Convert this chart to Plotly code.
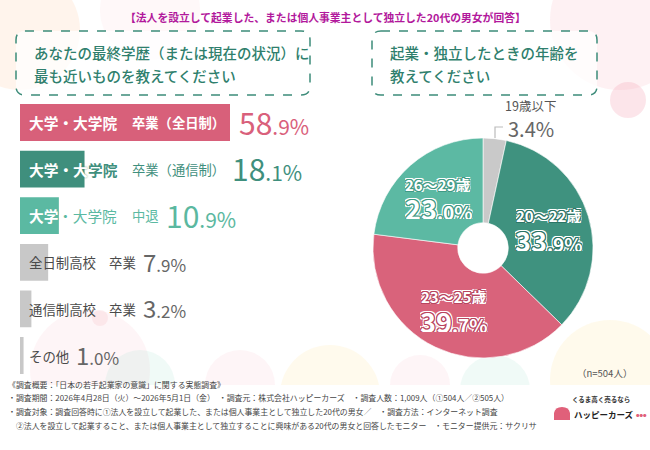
import math
import plotly.graph_objects as go

W, H = 650, 450

# ---------------- data ----------------
edu_prefix = ["大学・大学院", "大学・大学院", "大学・大学院", "全日制高校", "通信制高校", "その他"]
edu_suffix = ["卒業（全日制）", "卒業（通信制）", "中退", "卒業", "卒業", ""]
edu_white_chars = [6, 4, 2, 0, 0, 0]          # leading characters printed in white over the bar
edu_values = [58.9, 18.1, 10.9, 7.9, 3.2, 1.0]
edu_colors = ["#d8607a", "#3f8f7d", "#5bb9a2", "#c8c8c8", "#c8c8c8", "#c8c8c8"]
edu_text_colors = ["#ffffff", "#3f8f7d", "#5bb9a2", "#4a4a4a", "#4a4a4a", "#4a4a4a"]
edu_value_colors = ["#d9607b", "#3f8f7d", "#5bb8a0", "#666666", "#666666", "#666666"]

age_labels = ["19歳以下", "20〜22歳", "23〜25歳", "26〜29歳"]
age_values = [3.4, 33.9, 39.7, 23.0]
age_colors = ["#c9c9c9", "#3f927f", "#d9637b", "#5cb9a3"]
age_dark = ["#888888", "#2c7566", "#b8445f", "#3f9a84"]

title_text = "【法人を設立して起業した、または個人事業主として独立した20代の男女が回答】"
q1_lines = ["あなたの最終学歴（または現在の状況）に", "最も近いものを教えてください"]
q2_lines = ["起業・独立したときの年齢を", "教えてください"]
n_text = "（n=504人）"
footer_lines = [
    "《調査概要：「日本の若手起業家の意識」に関する実態調査》",
    "・調査期間：2026年4月28日（火）〜2026年5月1日（金）　・調査元：株式会社ハッピーカーズ　・調査人数：1,009人（①504人／②505人）",
    "・調査対象：調査回答時に①法人を設立して起業した、または個人事業主として独立した20代の男女／　・調査方法：インターネット調査",
    "　②法人を設立して起業すること、または個人事業主として独立することに興味がある20代の男女と回答したモニター　・モニター提供元：サクリサ",
]
logo_small = "くるま高く売るなら"
logo_big = "ハッピーカーズ"

FONT = "Noto Sans CJK JP"


def px(x):
    return x / W


def py(y):
    return 1 - y / H


def split_val(v):
    s = f"{v:.1f}"
    a, b = s.split(".")
    return a, "." + b + "%"


def outline(c, w=1):
    parts = []
    for dx in (-w, 0, w):
        for dy in (-w, 0, w):
            if dx or dy:
                parts.append(f"{dx}px {dy}px 0 {c}")
    for dx in (-2, 0, 2):
        for dy in (-2, 0, 2):
            if dx or dy:
                parts.append(f"{dx}px {dy}px 0 #ffffff")
    return ", ".join(parts)


def txt(x, y, text, size, color, xanchor="center", shadow=None, weight=None, height=None):
    f = dict(family=FONT, size=size, color=color)
    if shadow:
        f["shadow"] = shadow
    if weight:
        f["weight"] = weight
    a = dict(xref="paper", yref="paper", x=px(x), y=py(y), xanchor=xanchor, yanchor="middle",
             text=text, showarrow=False, font=f, align="left")
    if height:
        a["height"] = height
        a["borderpad"] = 0
    return a


fig = go.Figure()

# ---------------- background blobs ----------------
shapes = []
blobs = [
    (20, 30, 60, "rgba(255,205,170,0.22)"),
    (150, 10, 50, "rgba(255,200,210,0.13)"),
    (620, 20, 70, "rgba(250,190,200,0.22)"),
    (628, 100, 18, "rgba(245,170,185,0.30)"),
    (90, 370, 60, "rgba(250,200,210,0.18)"),
    (140, 385, 35, "rgba(170,225,210,0.18)"),
    (240, 385, 35, "rgba(250,200,210,0.18)"),
    (330, 395, 50, "rgba(255,235,180,0.24)"),
    (420, 385, 30, "rgba(250,200,210,0.18)"),
    (495, 390, 35, "rgba(170,225,210,0.18)"),
    (610, 380, 60, "rgba(255,235,180,0.26)"),
    (100, 318, 8, "rgba(245,180,190,0.22)"),
]
for cx_, cy_, r, col in blobs:
    shapes.append(dict(type="circle", xref="paper", yref="paper",
                       x0=px(cx_ - r), x1=px(cx_ + r), y0=py(cy_ + r), y1=py(cy_ - r),
                       fillcolor=col, line=dict(width=0), layer="below"))
# white footer band
shapes.append(dict(type="rect", xref="paper", yref="paper", x0=0, x1=1, y0=0, y1=py(385),
                   fillcolor="#ffffff", line=dict(width=0), layer="below"))


def rounded_box(x0, y0, x1, y1, r):
    rx, ry = r / W, r / H
    X0, X1, Y0, Y1 = px(x0), px(x1), py(y1), py(y0)
    return (f"M {X0+rx},{Y1} L {X1-rx},{Y1} Q {X1},{Y1} {X1},{Y1-ry} "
            f"L {X1},{Y0+ry} Q {X1},{Y0} {X1-rx},{Y0} L {X0+rx},{Y0} "
            f"Q {X0},{Y0} {X0},{Y0+ry} L {X0},{Y1-ry} Q {X0},{Y1} {X0+rx},{Y1} Z")


for (x0, y0, x1, y1) in [(16, 31, 310, 95), (372, 31, 597, 95)]:
    shapes.append(dict(type="path", xref="paper", yref="paper", path=rounded_box(x0, y0, x1, y1, 9),
                       fillcolor="rgba(255,255,255,0.75)",
                       line=dict(color="#3d8c7a", width=1.5, dash="dash"), layer="below"))

# leader line for 19歳以下
shapes.append(dict(type="path", xref="paper", yref="paper",
                   path=f"M {px(495)},{py(138)} L {px(495)},{py(127)} L {px(503)},{py(127)}",
                   line=dict(color="#bbbbbb", width=1.2)))

# ---------------- bar chart ----------------
X_MAX = 100
X_PX0, PX_PER_UNIT = 20, 210 / 58.9
idx = list(range(len(edu_values)))
fig.add_trace(go.Bar(
    x=edu_values, y=idx, orientation="h",
    marker=dict(color=edu_colors, line=dict(width=0)),
    width=0.79, hoverinfo="skip", showlegend=False,
    xaxis="x", yaxis="y",
))

annotations = []
for i, (pre, suf, nw, v) in enumerate(zip(edu_prefix, edu_suffix, edu_white_chars, edu_values)):
    top = i < 3
    pfs = 14.7 if top else 13.4
    sfs = 13.3 if top else 13.4
    shift = 7
    white_part, dark_part = pre[:nw], pre[nw:]
    if white_part:
        annotations.append(dict(
            xref="x", yref="y", x=0, y=i, xanchor="left", yanchor="middle", xshift=shift,
            text=f"<b>{white_part}</b>", showarrow=False,
            font=dict(family=FONT, size=pfs, color="#ffffff", shadow=f"0 0 2px {edu_colors[i]}")))
    if dark_part:
        annotations.append(dict(
            xref="x", yref="y", x=0, y=i, xanchor="left", yanchor="middle", xshift=shift + len(white_part) * pfs,
            text=(f"<b>{dark_part}</b>" if i == 1 else dark_part), showarrow=False,
            font=dict(family=FONT, size=pfs, color=edu_text_colors[i])))
    end = shift + len(pre) * pfs
    if suf:
        sx = end + (15 if top else 13.4)
        annotations.append(dict(
            xref="x", yref="y", x=0, y=i, xanchor="left", yanchor="middle", xshift=sx,
            text=(f"<b>{suf}</b>" if i == 0 else suf), showarrow=False,
            font=dict(family=FONT, size=sfs, color=edu_text_colors[i])))
        end = sx + len(suf) * sfs
    bar_end = v * PX_PER_UNIT
    vx = max(end, bar_end) + 7
    big, small = split_val(v)
    bsz, ssz = (30, 21) if top else (24, 17)
    annotations.append(dict(
        xref="x", yref="y", x=0, y=i, xanchor="left", yanchor="middle", xshift=vx, yshift=1,
        text=f"<span style='font-size:{bsz}px'>{big}</span><span style='font-size:{ssz}px'>{small}</span>",
        showarrow=False, font=dict(family=FONT, size=ssz, color=edu_value_colors[i])))

# ---------------- pie chart ----------------
cx, cy, R = 483, 248, 110
fig.add_trace(go.Pie(
    labels=age_labels, values=age_values, sort=False, direction="clockwise", rotation=0,
    hole=0.23, marker=dict(colors=age_colors, line=dict(color="rgba(255,255,255,0.6)", width=1)),
    textinfo="none", hoverinfo="skip", showlegend=False,
    domain=dict(x=[px(cx - R), px(cx + R)], y=[py(cy + R), py(cy - R)]),
))

total = sum(age_values)
cum = 0
for i, (lab, v) in enumerate(zip(age_labels, age_values)):
    mid = (cum + v / 2) / total * 2 * math.pi
    cum += v
    big, small = split_val(v)
    if i == 0:
        annotations.append(txt(530, 106, lab, 12.5, "#555555", height=13))
        annotations.append(txt(531, 129, f"{big}{small}", 20, "#666666", height=19))
        continue
    rr = 0.62 * R
    lx = cx + rr * math.sin(mid)
    ly = cy - rr * math.cos(mid)
    sh = outline(age_dark[i])
    annotations.append(txt(lx, ly - 12.5, f"<b>{lab}</b>", 15, "#ffffff", shadow=sh, height=15))
    annotations.append(txt(lx + 1, ly + 11.5,
                           f"<b><span style='font-size:27px'>{big}</span><span style='font-size:19px'>{small}</span></b>",
                           19, "#ffffff", shadow=sh, height=22))

# ---------------- texts ----------------
annotations.append(txt(325, 17, f"<b>{title_text}</b>", 10.8, "#b2189c"))
for k, line in enumerate(q1_lines):
    annotations.append(txt(32, 53 + k * 23, line, 14.5, "#2f7f6d", xanchor="left", weight=500))
for k, line in enumerate(q2_lines):
    annotations.append(txt(388, 53 + k * 23, line, 14.5, "#2f7f6d", xanchor="left", weight=500))
annotations.append(txt(634, 373, n_text, 9.5, "#555555", xanchor="right"))
for k, line in enumerate(footer_lines):
    annotations.append(txt(6, 384 + k * 13.7, line, 7.9, "#444444", xanchor="left"))
# logo
annotations.append(txt(601, 399, f"<b>{logo_small}</b>", 6.5, "#333333"))
annotations.append(txt(572, 414, f"<b>{logo_big}</b>", 8.5, "#222222", xanchor="left"))
annotations.append(txt(634, 415, "●●●", 3.5, "#e0607a", xanchor="left"))
shapes.append(dict(type="path", xref="paper", yref="paper",
                   path=(f"M {px(554)},{py(420)} L {px(554)},{py(413)} Q {px(555)},{py(407)} {px(562)},{py(407)} "
                         f"Q {px(569)},{py(407)} {px(570)},{py(413)} L {px(570)},{py(420)} Z"),
                   fillcolor="#e0607a", line=dict(width=0)))

fig.update_layout(
    width=W, height=H, margin=dict(l=0, r=0, t=0, b=0),
    paper_bgcolor="#ffffff", plot_bgcolor="rgba(0,0,0,0)",
    xaxis=dict(domain=[px(X_PX0), px(X_PX0 + X_MAX * PX_PER_UNIT)], range=[0, X_MAX], visible=False, fixedrange=True),
    yaxis=dict(domain=[py(99.2 + 6 * 46.6), py(99.2)], range=[5.5, -0.5], visible=False, fixedrange=True),
    bargap=0.2, shapes=shapes, annotations=annotations,
    font=dict(family=FONT),
)

fig.write_html("out.html")
